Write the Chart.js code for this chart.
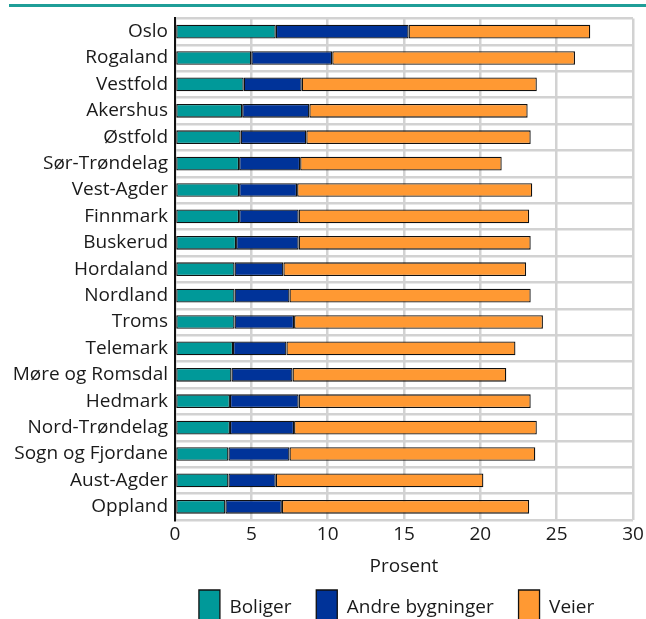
<!DOCTYPE html>
<html>
<head>
<meta charset="utf-8">
<script src="https://cdn.jsdelivr.net/npm/chart.js@4/dist/chart.umd.min.js"></script>
<style>
  html, body { margin: 0; padding: 0; background: #fff; overflow: hidden; }
  #topLine { position: absolute; left: 9px; right: 0; top: 4px; height: 3px; background: #1f9e98; }
  #wrap { position: absolute; left: 0; top: 0; width: 646px; height: 636px; }
</style>
</head>
<body>
<div id="topLine"></div>
<div id="wrap"><canvas id="chart"></canvas></div>
<script>
  const fylker = ['Oslo', 'Rogaland', 'Vestfold', 'Akershus', 'Østfold', 'Sør-Trøndelag', 'Vest-Agder',
    'Finnmark', 'Buskerud', 'Hordaland', 'Nordland', 'Troms', 'Telemark', 'Møre og Romsdal',
    'Hedmark', 'Nord-Trøndelag', 'Sogn og Fjordane', 'Aust-Agder', 'Oppland'];
  const boliger = [6.6, 5.0, 4.5, 4.4, 4.3, 4.2, 4.2, 4.2, 4.0, 3.9, 3.9, 3.9, 3.8, 3.7, 3.6, 3.6, 3.5, 3.5, 3.3];
  const andreBygninger = [8.7, 5.3, 3.8, 4.4, 4.3, 4.0, 3.8, 3.9, 4.1, 3.2, 3.6, 3.9, 3.5, 4.0, 4.5, 4.2, 4.0, 3.1, 3.7];
  const veier = [11.9, 15.9, 15.4, 14.3, 14.7, 13.2, 15.4, 15.1, 15.2, 15.9, 15.8, 16.3, 15.0, 14.0, 15.2, 15.9, 16.1, 13.6, 16.2];
  const xTicks = [0, 5, 10, 15, 20, 25, 30];

  const textColor = '#1a1a1a';
  const gridColor = '#d2d2d2';
  const font = { family: '"Open Sans", sans-serif', size: 19 };

  function makeSet(label, data, color) {
    return {
      label: label,
      data: data,
      backgroundColor: color,
      borderColor: '#111',
      borderWidth: 1.3,
      borderSkipped: false,
      categoryPercentage: 1,
      barPercentage: 0.52
    };
  }

  const ctx = document.getElementById('chart').getContext('2d');
  const chart = new Chart(ctx, {
    type: 'bar',
    data: {
      labels: fylker,
      datasets: [
        makeSet('Boliger', boliger, '#009999'),
        makeSet('Andre bygninger', andreBygninger, '#003399'),
        makeSet('Veier', veier, '#ff9933')
      ]
    },
    options: {
      indexAxis: 'y',
      responsive: true,
      maintainAspectRatio: false,
      animation: false,
      layout: { padding: { top: 17, left: 0, right: 0, bottom: 0 } },
      scales: {
        x: {
          stacked: true,
          min: 0,
          max: 30,
          afterBuildTicks: (s) => { s.ticks = xTicks.map(v => ({ value: v })); },
          afterFit: (s) => { s.height = 60; s.paddingRight = 13; },
          grid: { color: gridColor, lineWidth: 2.5, drawTicks: false },
          border: { display: false },
          ticks: { color: textColor, font: font, padding: 3 },
          title: { display: true, text: 'Prosent', color: textColor, font: font, padding: { top: 4, bottom: 2 } }
        },
        y: {
          stacked: true,
          afterFit: (s) => { s.width = 175; },
          grid: { color: gridColor, lineWidth: 2.5, drawTicks: false, offset: true },
          border: { display: true, color: '#111', width: 2 },
          ticks: { color: textColor, font: font, padding: 7, autoSkip: false }
        }
      },
      plugins: {
        legend: {
          position: 'bottom',
          fullSize: false,
          labels: {
            color: textColor,
            font: font,
            boxWidth: 21,
            boxHeight: 36,
            padding: 10,
            generateLabels: (c) => Chart.defaults.plugins.legend.labels.generateLabels(c).map(item => {
              item.text = item.text + '   ';
              return item;
            })
          }
        },
        tooltip: { enabled: false }
      }
    }
  });
</script>
</body>
</html>
